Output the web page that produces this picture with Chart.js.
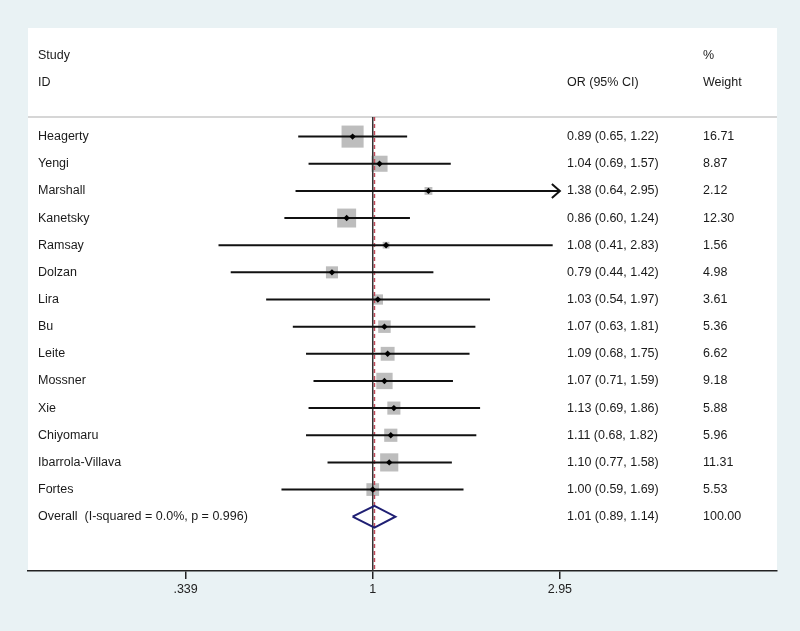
<!DOCTYPE html>
<html>
<head>
<meta charset="utf-8">
<script src="https://cdn.jsdelivr.net/npm/chart.js@4.4.1/dist/chart.umd.min.js"></script>
<style>
  html, body { margin: 0; padding: 0; background: #e9f2f4; }
  #wrap { width: 800px; height: 631px; position: relative; }
</style>
</head>
<body>
<div id="wrap"><canvas id="forest"></canvas></div>
<script>
// study data
const studies = ['Heagerty', 'Yengi', 'Marshall', 'Kanetsky', 'Ramsay', 'Dolzan', 'Lira',
    'Bu', 'Leite', 'Mossner', 'Xie', 'Chiyomaru', 'Ibarrola-Villava', 'Fortes'];
const orValues = [0.89, 1.04, 1.38, 0.86, 1.08, 0.79, 1.03, 1.07, 1.09, 1.07, 1.13, 1.11, 1.10, 1.00];
const ciLower  = [0.65, 0.69, 0.64, 0.60, 0.41, 0.44, 0.54, 0.63, 0.68, 0.71, 0.69, 0.68, 0.77, 0.59];
const ciUpper  = [1.22, 1.57, 2.95, 1.24, 2.83, 1.42, 1.97, 1.81, 1.75, 1.59, 1.86, 1.82, 1.58, 1.69];
const weights  = [16.71, 8.87, 2.12, 12.30, 1.56, 4.98, 3.61, 5.36, 6.62, 9.18, 5.88, 5.96, 11.31, 5.53];

const overallLabel = 'Overall  (I-squared = 0.0%, p = 0.996)';
const overallOR = 1.01;
const overallLower = 0.89;
const overallUpper = 1.14;
const overallWeight = 100.00;

const xTicks = [0.339, 1, 2.95];
const xTickLabels = ['.339', '1', '2.95'];

const overallRow = studies.length;
const fmt = v => v.toFixed(2);
const textFont = '12.5px "Liberation Sans", Arial, sans-serif';

// CI lines, one dataset per study
const ciSets = studies.map((name, i) => ({
    type: 'scatter',
    showLine: true,
    data: [{ x: ciLower[i], y: i }, { x: ciUpper[i], y: i }],
    borderColor: '#111',
    borderWidth: 2,
    pointRadius: 0,
    order: 2
}));

// weight boxes (side ~ sqrt(weight))
const boxSet = {
    type: 'scatter',
    data: orValues.map((v, i) => ({ x: v, y: i })),
    pointStyle: 'rect',
    pointRadius: weights.map(w => 5.4 * Math.sqrt(w) / Math.SQRT2),
    backgroundColor: '#bdbdbd',
    borderWidth: 0,
    order: 4
};

const estSet = {
    type: 'scatter',
    data: orValues.map((v, i) => ({ x: v, y: i })),
    pointStyle: 'rectRot',
    pointRadius: 3.2,
    backgroundColor: '#000',
    borderWidth: 0,
    order: 0
};

const diamondSet = {
    type: 'scatter',
    showLine: true,
    data: [
        { x: overallLower, y: overallRow },
        { x: overallOR, y: overallRow - 0.4 },
        { x: overallUpper, y: overallRow },
        { x: overallOR, y: overallRow + 0.4 },
        { x: overallLower, y: overallRow }
    ],
    borderColor: '#1f1f73',
    borderWidth: 2,
    pointRadius: 0,
    order: 1
};

const nullLine = {
    type: 'scatter',
    showLine: true,
    data: [{ x: 1, y: -0.72 }, { x: 1, y: 16 }],
    borderColor: '#333',
    borderWidth: 1.5,
    pointRadius: 0,
    order: 3
};

const overallLine = {
    type: 'scatter',
    showLine: true,
    data: [{ x: overallOR, y: -0.72 }, { x: overallOR, y: 16 }],
    borderColor: '#c24a5a',
    borderWidth: 1.5,
    borderDash: [4, 3],
    pointRadius: 0,
    order: 3
};

const backdrop = {
    id: 'backdrop',
    beforeDraw(chart) {
        const { ctx, chartArea: a } = chart;
        ctx.save();
        ctx.fillStyle = '#e9f2f4';
        ctx.fillRect(0, 0, chart.width, chart.height);
        ctx.fillStyle = '#fff';
        ctx.fillRect(a.left, a.top, a.right - a.left, a.bottom - a.top);
        // header separator
        const ys = chart.scales.y.getPixelForValue(-0.72);
        ctx.strokeStyle = '#c8c8c8';
        ctx.lineWidth = 1.5;
        ctx.beginPath();
        ctx.moveTo(a.left, ys);
        ctx.lineTo(a.right, ys);
        ctx.stroke();
        ctx.restore();
    }
};

const tableText = {
    id: 'tableText',
    afterDatasetsDraw(chart) {
        const { ctx, chartArea: a, scales: { x, y } } = chart;
        const colName = a.left + 10, colOR = a.left + 539, colW = a.left + 675;
        ctx.save();
        ctx.font = textFont;
        ctx.fillStyle = '#1a1a1a';
        ctx.textBaseline = 'middle';
        ctx.fillText('Study', colName, y.getPixelForValue(-3));
        ctx.fillText('ID', colName, y.getPixelForValue(-2));
        ctx.fillText('%', colW, y.getPixelForValue(-3));
        ctx.fillText('OR (95% CI)', colOR, y.getPixelForValue(-2));
        ctx.fillText('Weight', colW, y.getPixelForValue(-2));
        studies.forEach((name, i) => {
            const py = y.getPixelForValue(i);
            ctx.fillText(name, colName, py);
            ctx.fillText(`${fmt(orValues[i])} (${fmt(ciLower[i])}, ${fmt(ciUpper[i])})`, colOR, py);
            ctx.fillText(fmt(weights[i]), colW, py);
        });
        const po = y.getPixelForValue(overallRow);
        ctx.fillText(overallLabel, colName, po);
        ctx.fillText(`${fmt(overallOR)} (${fmt(overallLower)}, ${fmt(overallUpper)})`, colOR, po);
        ctx.fillText(fmt(overallWeight), colW, po);

        // arrow heads where the CI reaches the last tick
        const xMax = xTicks[xTicks.length - 1];
        ctx.strokeStyle = '#111';
        ctx.lineWidth = 2;
        ciUpper.forEach((hi, i) => {
            if (hi < xMax) return;
            const px = x.getPixelForValue(xMax), py = y.getPixelForValue(i);
            ctx.beginPath();
            ctx.moveTo(px - 8, py - 7);
            ctx.lineTo(px, py);
            ctx.lineTo(px - 8, py + 7);
            ctx.stroke();
        });
        ctx.restore();
    }
};

new Chart(document.getElementById('forest'), {
    data: { datasets: [estSet, diamondSet, ...ciSets, nullLine, overallLine, boxSet] },
    options: {
        responsive: true,
        maintainAspectRatio: false,
        animation: false,
        layout: { padding: { left: 28, right: 23, top: 28, bottom: 0 } },
        scales: {
            x: {
                type: 'logarithmic',
                min: 0.1363,
                max: 10.35,
                afterBuildTicks: s => { s.ticks = xTicks.map(v => ({ value: v })); },
                afterFit: s => { s.height = 60; },
                ticks: {
                    autoSkip: false,
                    maxRotation: 0,
                    padding: 3,
                    color: '#222',
                    font: { family: '"Liberation Sans", Arial, sans-serif', size: 12.5 },
                    callback: (v, i) => xTickLabels[i]
                },
                grid: { drawOnChartArea: false, tickLength: 8, color: '#222', lineWidth: 1.5 },
                border: { display: true, color: '#222', width: 1.5 }
            },
            y: {
                type: 'linear',
                min: -4,
                max: 16,
                reverse: true,
                display: false
            }
        },
        plugins: {
            legend: { display: false },
            tooltip: { enabled: false }
        }
    },
    plugins: [backdrop, tableText]
});
</script>
</body>
</html>
